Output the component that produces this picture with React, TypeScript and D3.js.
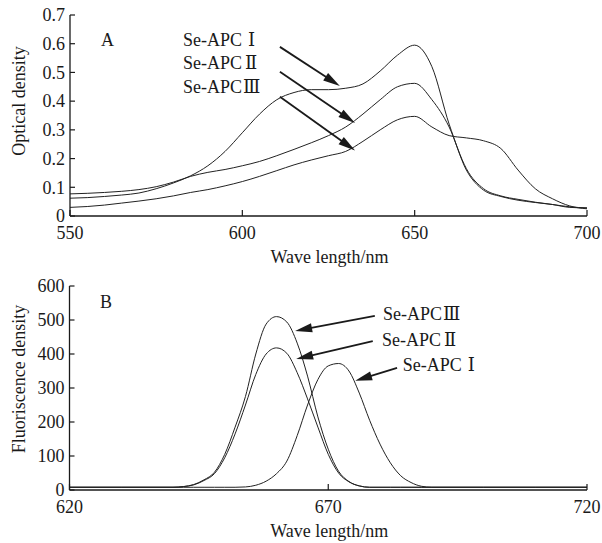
import React from "react";
import * as d3 from "d3";

// Panel A - absorption spectra (optical density)
const waveA = [
  550, 555, 560, 565, 570, 575, 580, 585, 590, 595, 600, 605, 610, 615, 620, 625,
  630, 635, 640, 645, 650, 655, 660, 665, 670, 675, 680, 685, 690, 695, 700,
];
const odI = [
  0.062, 0.064, 0.068, 0.073, 0.08, 0.095, 0.115, 0.14, 0.175, 0.225, 0.29, 0.355,
  0.405, 0.43, 0.44, 0.44, 0.445, 0.46, 0.505, 0.56, 0.595, 0.52, 0.32, 0.165,
  0.095, 0.07, 0.058, 0.048, 0.04, 0.03, 0.028,
];
const odII = [
  0.077, 0.079, 0.082, 0.086, 0.092, 0.102, 0.118, 0.138, 0.152, 0.162, 0.175,
  0.19, 0.21, 0.232, 0.255, 0.28, 0.31, 0.355, 0.405, 0.45, 0.462, 0.405, 0.31,
  0.16, 0.09, 0.068, 0.055, 0.047, 0.04, 0.032, 0.028,
];
const odIII = [
  0.03, 0.033, 0.038, 0.045, 0.052, 0.06, 0.07, 0.082, 0.092, 0.105, 0.12, 0.138,
  0.158, 0.178, 0.195, 0.21, 0.225, 0.26, 0.3, 0.335, 0.347, 0.31, 0.28, 0.272,
  0.262, 0.235, 0.16, 0.095, 0.06, 0.035, 0.025,
];
const odTicks = [0, 0.1, 0.2, 0.3, 0.4, 0.5, 0.6, 0.7];
const waveTicksA = [550, 600, 650, 700];

// Panel B - fluorescence spectra
const waveB = [
  620, 630, 640, 642, 644, 646, 648, 650, 652, 654, 656, 658, 660, 662, 664, 666,
  668, 670, 672, 674, 676, 678, 680, 682, 684, 686, 688, 690, 700, 710, 720,
];
const fluIII = [
  8, 8, 8, 10, 16, 30, 52, 105, 185, 275, 400, 488, 510, 494, 432, 335, 215, 120,
  55, 25, 12, 8, 8, 8, 8, 8, 8, 8, 8, 8, 8,
];
const fluII = [
  8, 8, 8, 10, 15, 28, 48, 95, 165, 250, 340, 400, 418, 402, 345, 268, 185, 105,
  50, 24, 12, 8, 8, 8, 8, 8, 8, 8, 8, 8, 8,
];
const fluI = [
  8, 8, 8, 8, 8, 8, 8, 8, 8, 9, 14, 26, 48, 85, 160, 250, 325, 365, 372, 350, 285,
  205, 135, 80, 42, 22, 11, 8, 8, 8, 8,
];
const fluTicks = [0, 100, 200, 300, 400, 500, 600];
const waveTicksB = [620, 670, 720];

// annotations (data coordinates): label anchor, arrow tail, arrow tip
const notesA = [
  { num: "Ⅰ", at: [582.8, 0.592], from: [610.9, 0.589], to: [628.3, 0.453] },
  { num: "Ⅱ", at: [582.8, 0.512], from: [610.9, 0.502], to: [632.7, 0.324] },
  { num: "Ⅲ", at: [582.8, 0.429], from: [610.9, 0.415], to: [632.7, 0.228] },
];
const notesB = [
  { num: "Ⅲ", at: [680.6, 500], from: [679.0, 512], to: [663.6, 468] },
  { num: "Ⅱ", at: [680.4, 424], from: [678.6, 438], to: [663.8, 385] },
  { num: "Ⅰ", at: [684.4, 350], from: [683.3, 359], to: [675.2, 321] },
];
const numGap: Record<string, number> = { "Ⅰ": 6, "Ⅱ": 3, "Ⅲ": 1 };

const FONT = "'Liberation Serif', 'Times New Roman', serif";
const INK = "#1a1a1a";

function Arrow({ x1, y1, x2, y2 }: { x1: number; y1: number; x2: number; y2: number }) {
  const dx = x2 - x1, dy = y2 - y1;
  const len = Math.hypot(dx, dy);
  const ux = dx / len, uy = dy / len;
  const hl = 17, hw = 4.5;
  const bx = x2 - ux * hl, by = y2 - uy * hl;
  const head = `M${x2},${y2}L${bx - uy * hw},${by + ux * hw}L${bx + uy * hw},${by - ux * hw}Z`;
  return (
    <g>
      <line x1={x1} y1={y1} x2={bx + ux * 2} y2={by + uy * 2} stroke={INK} strokeWidth={1.8} />
      <path d={head} fill={INK} />
    </g>
  );
}

function Panel({
  xDomain, xRange, yDomain, yRange, xTicks, yTicks, yFmt, series, xs, notes, tag, yLabel, yLabelY,
}: any) {
  const x = d3.scaleLinear().domain(xDomain).range(xRange);
  const y = d3.scaleLinear().domain(yDomain).range(yRange);
  const line = d3
    .line<number>()
    .x((_, i) => x(xs[i]))
    .y((d) => y(d))
    .curve(d3.curveMonotoneX);
  const [x0, x1] = xRange;
  const [y0, y1] = yRange;
  return (
    <g fontFamily={FONT} fill={INK}>
      {series.map((s: number[], i: number) => (
        <path key={i} d={line(s) || ""} fill="none" stroke="#222" strokeWidth={1} />
      ))}
      <line x1={x0} y1={y0} x2={x1} y2={y0} stroke={INK} strokeWidth={1.3} />
      <line x1={x0} y1={y0} x2={x0} y2={y1} stroke={INK} strokeWidth={1.3} />
      {xTicks.map((t: number) => (
        <g key={t}>
          <line x1={x(t)} x2={x(t)} y1={y0} y2={y0 - 6} stroke={INK} strokeWidth={1.2} />
          <text x={x(t)} y={y0 + 23} textAnchor="middle" fontSize={18}>
            {t}
          </text>
        </g>
      ))}
      {yTicks.map((t: number) => (
        <g key={t}>
          <line x1={x0} x2={x0 + 5} y1={y(t)} y2={y(t)} stroke={INK} strokeWidth={1.2} />
          <text x={x0 - 5} y={y(t)} dy="0.35em" textAnchor="end" fontSize={18}>
            {yFmt(t)}
          </text>
        </g>
      ))}
      <text x={(x0 + x1) / 2 + 1} y={y0 + 47} textAnchor="middle" fontSize={18}>
        Wave length/nm
      </text>
      <text
        transform={`translate(25,${yLabelY}) rotate(-90)`}
        textAnchor="middle"
        fontSize={18}
      >
        {yLabel}
      </text>
      <text x={tag.x} y={tag.y} fontSize={18}>
        {tag.t}
      </text>
      {notes.map((n: any, i: number) => (
        <g key={i}>
          <text x={x(n.at[0])} y={y(n.at[1])} fontSize={18}>
            Se-APC
            <tspan dx={numGap[n.num]} fontFamily="'DejaVu Serif', 'Noto Sans CJK SC', serif" fontSize={18}>
              {n.num}
            </tspan>
          </text>
          <Arrow x1={x(n.from[0])} y1={y(n.from[1])} x2={x(n.to[0])} y2={y(n.to[1])} />
        </g>
      ))}
    </g>
  );
}

export default function App() {
  return (
    <div style={{ position: "absolute", left: 0, top: 0 }}>
      <svg width={602} height={543} style={{ display: "block", background: "#fff" }}>
        <Panel
          xDomain={[550, 700]}
          xRange={[70, 587]}
          yDomain={[0, 0.7]}
          yRange={[216, 15]}
          xTicks={waveTicksA}
          yTicks={odTicks}
          yFmt={(t: number) => (t === 0 ? "0" : t.toFixed(1))}
          series={[odI, odII, odIII]}
          xs={waveA}
          notes={notesA}
          tag={{ t: "A", x: 101, y: 46 }}
          yLabel="Optical density"
          yLabelY={101}
        />
        <Panel
          xDomain={[620, 720]}
          xRange={[69.5, 587]}
          yDomain={[0, 600]}
          yRange={[490, 286]}
          xTicks={waveTicksB}
          yTicks={fluTicks}
          yFmt={(t: number) => String(t)}
          series={[fluI, fluII, fluIII]}
          xs={waveB}
          notes={notesB}
          tag={{ t: "B", x: 100, y: 308 }}
          yLabel="Fluoriscence density"
          yLabelY={379}
        />
      </svg>
    </div>
  );
}
